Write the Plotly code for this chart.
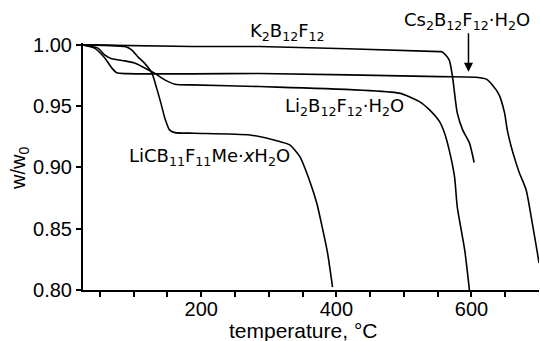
import plotly.graph_objects as go

# K2B12F12
k_t = [25, 186, 286, 553, 557, 567, 572, 579, 587, 597, 604]
k_w = [1.000, 0.9986, 0.9986, 0.9945, 0.9942, 0.9878, 0.9739, 0.9445, 0.9306, 0.920, 0.904]

# Cs2B12F12·H2O
cs_t = [25, 42, 57, 67.5, 75, 90, 186, 286, 553, 607, 622, 631, 641, 649, 653, 659, 666, 671, 681, 690, 697.6, 700]
cs_w = [1.000, 0.9973, 0.9894, 0.9812, 0.9772, 0.9765, 0.9763, 0.9766, 0.9741, 0.9736, 0.972, 0.9673, 0.9592, 0.9445, 0.9306, 0.9167, 0.9037, 0.8955, 0.8816, 0.8547, 0.8302, 0.822]

# Li2B12F12·H2O
li_t = [25, 47, 57, 67.5, 87, 101.5, 116, 131, 146, 161, 186, 286, 493, 523, 538, 553, 560, 567, 575, 579, 590, 597]
li_w = [1.000, 0.9973, 0.9918, 0.9886, 0.9869, 0.9851, 0.9812, 0.9769, 0.9714, 0.9679, 0.9673, 0.966, 0.9606, 0.9537, 0.9469, 0.9371, 0.9282, 0.9143, 0.8922, 0.8678, 0.8327, 0.800]

# LiCB11F11Me·xH2O
lc_t = [25, 87, 97, 106, 116, 127, 134, 141, 146, 153, 161, 190, 272, 316, 331, 346, 360, 371, 380, 387, 394.4]
lc_w = [1.000, 0.9986, 0.9959, 0.9904, 0.9851, 0.9769, 0.9647, 0.951, 0.9404, 0.9306, 0.9284, 0.9279, 0.9265, 0.9211, 0.9184, 0.9088, 0.8898, 0.871, 0.849, 0.8302, 0.8024]

x_tickvals = [50, 100, 150, 200, 250, 300, 350, 400, 450, 500, 550, 600, 650]
x_ticktext = ["", "", "", "200", "", "", "", "400", "", "", "", "600", ""]
y_tickvals = [0.80, 0.85, 0.90, 0.95, 1.00]

fig = go.Figure()
for t, w in [(k_t, k_w), (cs_t, cs_w), (li_t, li_w), (lc_t, lc_w)]:
    fig.add_trace(go.Scatter(x=t, y=w, mode="lines",
                             line=dict(color="black", width=1.6, shape="spline", smoothing=0.6),
                             showlegend=False, hoverinfo="skip"))

lab_font = dict(family="DejaVu Sans", size=18, color="black")
fig.add_annotation(x=328, y=1.0445, yref="paper", text="K<sub>2</sub>B<sub>12</sub>F<sub>12</sub>",
                   showarrow=False, font=lab_font, yanchor="middle")
fig.add_annotation(x=594, y=1.089, yref="paper", text="Cs<sub>2</sub>B<sub>12</sub>F<sub>12</sub>·H<sub>2</sub>O",
                   showarrow=False, font=lab_font, yanchor="middle")
fig.add_annotation(x=412, y=0.9494, text="Li<sub>2</sub>B<sub>12</sub>F<sub>12</sub>·H<sub>2</sub>O",
                   showarrow=False, font=lab_font)
fig.add_annotation(x=212, y=0.9086, text="LiCB<sub>11</sub>F<sub>11</sub>Me·<i>x</i>H<sub>2</sub>O",
                   showarrow=False, font=lab_font)
fig.add_annotation(x=595.6, y=0.978, ax=0, ay=-40, text="", showarrow=True,
                   arrowhead=2, arrowsize=1.2, arrowwidth=1.5, arrowcolor="black")

fig.add_annotation(x=350, y=0, xref="x", yref="paper", yshift=-40, yanchor="middle", text="temperature, °C",
                   showarrow=False, font=dict(family="Liberation Sans", size=21, color="black"))
fig.add_annotation(x=0, y=0.49, xref="paper", yref="paper", xshift=-63, xanchor="center", yanchor="middle",
                   text="w/w<sub>0</sub>", textangle=-90, showarrow=False,
                   font=dict(family="Liberation Sans", size=20, color="black"))

fig.update_layout(
    width=540, height=341,
    margin=dict(l=83, r=1, t=43, b=51),
    paper_bgcolor="white", plot_bgcolor="white",
    font=dict(family="Liberation Sans", size=20, color="black"),
    xaxis=dict(range=[25, 700], tickvals=x_tickvals, ticktext=x_ticktext,
               ticks="outside", ticklen=5, tickwidth=1.5, tickcolor="black", ticklabelstandoff=-5,
               showline=True, linewidth=2, linecolor="black", showgrid=False, zeroline=False),
    yaxis=dict(range=[0.80, 1.0015], tickvals=y_tickvals, tickformat=".2f",
               ticks="outside", ticklen=5, tickwidth=1.5, tickcolor="black",
               showline=True, linewidth=2, linecolor="black", showgrid=False, zeroline=False),
)

fig.write_html("out.html", config={"displayModeBar": False},
               post_script="document.body.style.margin='0';document.body.style.overflow='hidden';")
